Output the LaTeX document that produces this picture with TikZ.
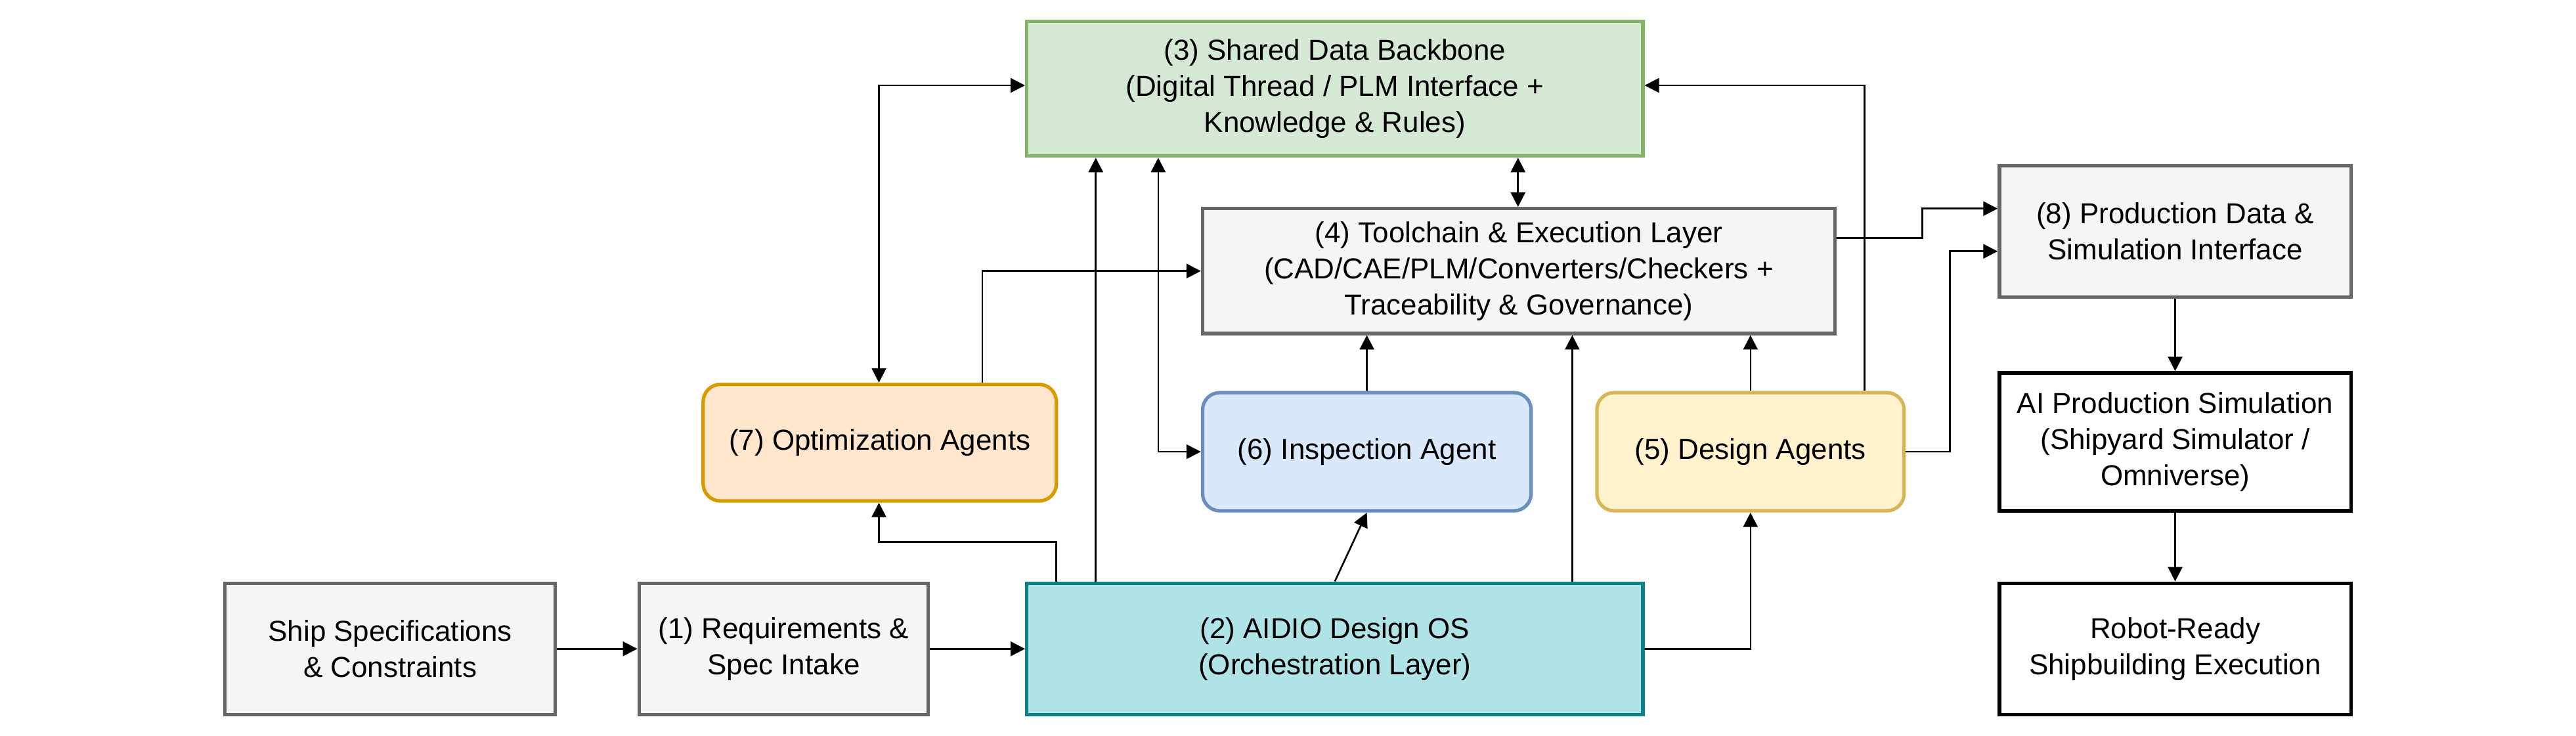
\documentclass[tikz,border=0pt]{standalone}
\usepackage{fontspec}
\setmainfont{Liberation Sans}
\usepackage{tikz}
\usetikzlibrary{arrows.meta}
\definecolor{grayfill}{HTML}{F5F5F5}
\definecolor{graydraw}{HTML}{666666}
\definecolor{greenfill}{HTML}{D5E8D4}
\definecolor{greendraw}{HTML}{82B366}
\definecolor{orangefill}{HTML}{FFE6CC}
\definecolor{orangedraw}{HTML}{D79B00}
\definecolor{bluefill}{HTML}{DAE8FC}
\definecolor{bluedraw}{HTML}{6C8EBF}
\definecolor{yellowfill}{HTML}{FFF2CC}
\definecolor{yellowdraw}{HTML}{D6B656}
\definecolor{tealfill}{HTML}{B0E3E6}
\definecolor{tealdraw}{HTML}{0E8088}
\tikzset{
  box/.style={draw=graydraw, fill=grayfill, line width=1.2pt, align=center, inner sep=0pt},
  agent/.style={box, rounded corners=6pt},
  plain/.style={box, draw=black, fill=white},
  link/.style={-{Triangle[length=5pt,width=5pt]}, line width=0.6pt},
  both/.style={{Triangle[length=5pt,width=5pt]}-{Triangle[length=5pt,width=5pt]}, line width=0.6pt}
}
\newcommand{\boxat}[6]{% name, style, x1, y1, x2, y2
  \node[#2, minimum width={(#5-#3)*0.02cm}, minimum height={(#6-#4)*0.02cm}]
    (#1) at ({(#3+#5)/2}, {(#4+#6)/2})}
\begin{document}
\begin{tikzpicture}[x=0.02cm, y=-0.02cm, font=\fontsize{10}{12.5}\selectfont]
\useasboundingbox (0,0) rectangle (1568,448);
% top row
\boxat{backbone}{box, draw=greendraw, fill=greenfill}{625}{13}{1000}{95} {(3) Shared Data Backbone\\(Digital Thread / PLM Interface +\\Knowledge \& Rules)};
\boxat{tools}{box}{732}{127}{1117}{203} {(4) Toolchain \& Execution Layer\\(CAD/CAE/PLM/Converters/Checkers +\\Traceability \& Governance)};
\boxat{proddata}{box}{1217}{101}{1431}{181} {(8) Production Data \&\\Simulation Interface};
% agents
\boxat{optim}{agent, draw=orangedraw, fill=orangefill}{428}{234}{643}{305} {(7) Optimization Agents};
\boxat{inspect}{agent, draw=bluedraw, fill=bluefill}{732}{239}{932}{311} {(6) Inspection Agent};
\boxat{design}{agent, draw=yellowdraw, fill=yellowfill}{972}{239}{1159}{311} {(5) Design Agents};
\boxat{aisim}{plain}{1217}{227}{1431}{311} {AI Production Simulation\\(Shipyard Simulator /\\Omniverse)};
% bottom row
\boxat{specs}{box}{137}{355}{338}{435} {Ship Specifications\\\& Constraints};
\boxat{intake}{box}{389}{355}{565}{435} {(1) Requirements \&\\Spec Intake};
\boxat{os}{box, draw=tealdraw, fill=tealfill}{625}{355}{1000}{435} {(2) AIDIO Design OS\\(Orchestration Layer)};
\boxat{robot}{plain}{1217}{355}{1431}{435} {Robot-Ready\\Shipbuilding Execution};
% connectors
\draw[link] (specs) -- (intake);
\draw[link] (intake) -- (os);
\draw[link] (os.east) -| (design.south);
\draw[link] (os.north) -- (inspect.south);
\draw[link] (os.north -| 643,0) |- (535,330) -- (optim.south -| 535,0);
\draw[link] (os.north -| 667,0) -- (backbone.south -| 667,0);
\draw[link] (os.north -| 957,0) -- (tools.south -| 957,0);
\draw[link] (inspect.north) -- (tools.south -| inspect.north);
\draw[link] (design.north) -- (tools.south -| design.north);
\draw[link] (design.north -| 1135,0) |- (backbone.east |- 0,52);
\draw[link] (design.east) -| (1187,153) -- (proddata.west |- 0,153);
\draw[link] (tools.east |- 0,145) -| (1170,127) -- (proddata.west |- 0,127);
\draw[both] (optim.north -| 535,0) |- (backbone.west |- 0,52);
\draw[link] (optim.north -| 598,0) |- (tools.west |- 0,165);
\draw[both] (backbone.south -| 705,0) |- (inspect.west);
\draw[both] (backbone.south -| 924,0) -- (tools.north -| 924,0);
\draw[link] (proddata) -- (aisim);
\draw[link] (aisim) -- (robot);
\end{tikzpicture}
\end{document}
